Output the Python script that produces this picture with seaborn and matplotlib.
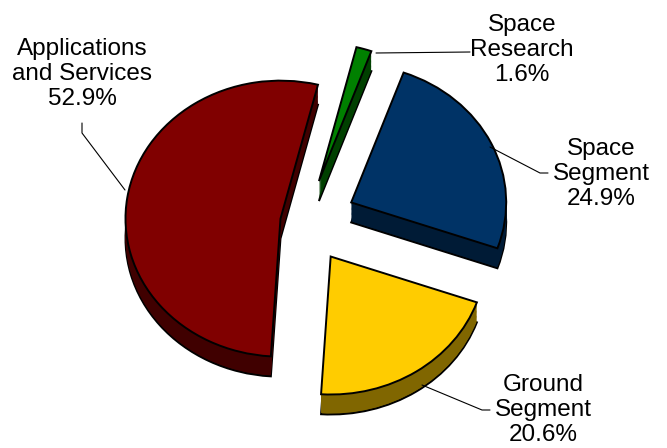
import matplotlib
matplotlib.use("Agg")
import matplotlib.pyplot as plt
import seaborn as sns

sns.set_theme(style="white")
plt.rcParams["font.family"] = ["Liberation Sans", "DejaVu Sans"]

# Share of activity by segment (percent)
categories = ["Space\nResearch", "Space\nSegment", "Ground\nSegment", "Applications\nand Services"]
values = [1.6, 24.9, 20.6, 52.9]
top_colors = ["#008000", "#003366", "#FFCC00", "#800000"]
side_colors = ["#004000", "#001B36", "#806600", "#400000"]
explode = [0.31, 0.33, 0.30, 0.16]

W, H = 667, 448
fig = plt.figure(figsize=(W / 100, H / 100), dpi=100)
ax = fig.add_axes([0, 0, 1, 1])

# Ellipse scaling: one radius = 155 px wide, 138 px tall; pie centre at (305, 222) px
rx, ry = 155.0, 138.0
cx, cy = 305.0, 222.0
xlim = (-cx / rx, (W - cx) / rx)
ylim = (-(H - cy) / ry, cy / ry)

def px(x, y):
    """Pixel position (origin top-left) to data coordinates."""
    return xlim[0] + x / rx, ylim[1] - y / ry

depth = 20.0 / ry
n_layers = 16
start = 76

# Extruded sides: stack of dark copies, bottom one outlined
for k in range(n_layers, 0, -1):
    off = -depth * k / n_layers
    lw = 1.4 if k == n_layers else 0
    ax.pie(values, explode=explode, colors=side_colors, startangle=start,
           counterclock=False, center=(0, off), radius=1.0, frame=True,
           wedgeprops=dict(linewidth=lw, edgecolor="black"))

# Top faces
ax.pie(values, explode=explode, colors=top_colors, startangle=start,
       counterclock=False, center=(0, 0), radius=1.0, frame=True,
       wedgeprops=dict(linewidth=1.4, edgecolor="black"))

ax.set_xlim(*xlim)
ax.set_ylim(*ylim)
ax.set_aspect("auto")
ax.axis("off")

# Labels with leader lines
labels = [f"{c}\n{v:.1f}%" for c, v in zip(categories, values)]
label_pos = [(522, 50), (601, 174), (543, 410), (82, 74)]
leaders = [
    [(376, 53), (470, 52)],
    [(490, 147), (540, 173), (548, 173)],
    [(422, 385), (482, 410), (490, 410)],
    [(82, 123), (82, 133), (125, 190)],
]
for lab, (tx, ty), pts in zip(labels, label_pos, leaders):
    fig.text(tx / W, 1 - ty / H, lab, ha="center", va="center",
             fontsize=17.5, color="black", linespacing=1.15)
    xs, ys = zip(*[px(x, y) for x, y in pts])
    ax.plot(xs, ys, color="black", linewidth=0.8)

fig.savefig("out.png", dpi=100)
